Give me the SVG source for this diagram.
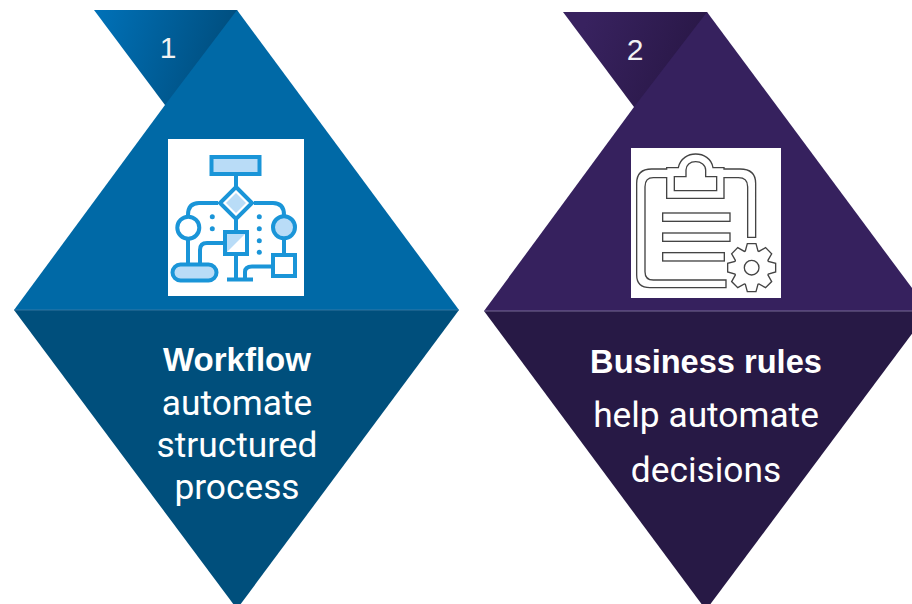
<svg xmlns="http://www.w3.org/2000/svg" width="912" height="604" viewBox="0 0 912 604">
<defs>
<style>
.lbl{font-family:Roboto,"Liberation Sans",sans-serif;fill:#fff;text-anchor:middle;font-size:35.300px}
.bold{font-family:"Liberation Sans",Arial,sans-serif;font-weight:700}
.num{font-family:"Liberation Sans",Arial,sans-serif;fill:#f2f2f2;text-anchor:middle;font-size:30px}
.ic{fill:none;stroke:#1a95d8;stroke-width:4;stroke-linejoin:miter}
.lt{fill:#b9dcf7}
.wf{fill:#fff}
.dot{fill:#1a95d8}
.cb{fill:#fff;stroke:#444;stroke-width:4;fill-rule:evenodd}
</style>
<linearGradient id="t1" gradientUnits="userSpaceOnUse" x1="100" y1="10" x2="225" y2="50"><stop offset="0" stop-color="#0070b6"/><stop offset="1" stop-color="#004f80"/></linearGradient>
<linearGradient id="t2" gradientUnits="userSpaceOnUse" x1="590" y1="10" x2="695" y2="50"><stop offset="0" stop-color="#38225f"/><stop offset="1" stop-color="#2a1848"/></linearGradient>
</defs>
<rect width="912" height="604" fill="#fff"/>
<g id="node-1">
<polygon points="94,10 237,10 245,30 175,110 165,105" fill="url(#t1)"/>
<polygon points="237,10 459,310 14,310 165,105" fill="#0069a6"/>
<polygon points="14,310 459,310 237,609" fill="#004f7c"/>
<line x1="14" y1="310" x2="459" y2="310" stroke="#3f7fa8" stroke-width="0.8"/>
<text class="num" x="168" y="58">1</text>
<g id="icon-workflow">
<rect x="168" y="139" width="136" height="157" fill="#fff"/>
<path class="ic" d="M236 175V187M236 219V232M236 255V279M227 279.500H253M218 203H199Q188 203 188 215M254 203H273Q284 203 284 215M188 239V264M284 239V255M223 243H207Q200 243 200 250V264M272 266.500H252Q245 266.500 245 272V279"/>
<rect class="ic lt" x="211.500" y="157" width="48" height="17"/>
<polygon class="ic wf" points="236,187 252,203 236,219 220,203"/>
<polygon class="lt" points="236,193 246,203 236,213 226,203"/>
<circle class="ic wf" cx="188.300" cy="227.700" r="11"/>
<circle class="ic lt" cx="284" cy="227.300" r="11"/>
<rect class="wf" x="225" y="232" width="22" height="22"/>
<polygon class="lt" points="225,232 247,232 225,254"/>
<rect class="ic" x="225" y="232" width="22" height="22"/>
<rect class="ic lt" x="172.500" y="264.500" width="44" height="16" rx="8"/>
<rect class="ic wf" x="273" y="255" width="22" height="21"/>
<g class="dot"><circle cx="212.300" cy="216.700" r="2.500"/><circle cx="212.300" cy="228.700" r="2.500"/><circle cx="259.300" cy="216.700" r="2.500"/><circle cx="259.300" cy="228.700" r="2.500"/><circle cx="259.300" cy="240.700" r="2.500"/><circle cx="259.300" cy="252.300" r="2.500"/></g>
</g>
<text class="lbl bold" x="237" y="371" style="font-size:33px">Workflow</text>
<text class="lbl" x="237" y="415">automate</text>
<text class="lbl" x="237" y="457">structured</text>
<text class="lbl" x="237" y="499">process</text>
</g>
<g id="node-2">
<polygon points="563,12 707,12 715,32 644,112 634,107" fill="url(#t2)"/>
<polygon points="707,12 929,311 484,311 634,107" fill="#36215e"/>
<polygon points="484,311 929,311 706,610" fill="#271945"/>
<line x1="484" y1="311" x2="912" y2="311" stroke="#8a7fa8" stroke-width="0.8"/>
<text class="num" x="635" y="60">2</text>
<g id="icon-rules">
<rect x="631" y="148" width="150" height="150" fill="#fff"/>
<g transform="translate(625 145) scale(.3333)">
<path class="cb" d="M303 428H75Q35 428 35 390V115Q35 72 80 72H125V68H160C165 40 190 27 212 27C235 27 260 40 264 68H297V72H345Q392 72 392 115V277H368V125Q368 98 340 98H297V160H125V98H85Q60 98 60 125V380Q60 405 85 405H303ZM148 137V95H183V75C183 60 195 50 212 50C228 50 242 60 242 75V95H275V137Z"/>
<rect class="cb" x="113" y="204" width="202" height="25"/>
<rect class="cb" x="113" y="264" width="202" height="25"/>
<rect class="cb" x="113" y="323" width="185" height="25"/>
<g transform="translate(380 368)">
<path class="cb" d="M-19-50L-13-72H13L19-50L21.900-48.800L41.700-60.100L60.100-41.700L48.800-21.900L50-19L72-13V13L50 19L48.800 21.900L60.100 41.700L41.700 60.100L21.900 48.800L19 50L13 72H-13L-19 50L-21.900 48.800L-41.700 60.100L-60.100 41.700L-48.800 21.900L-50 19L-72 13V-13L-50-19L-48.800-21.900L-60.100-41.700L-41.700-60.100L-21.900-48.800Z"/>
<circle class="cb" r="22"/>
</g>
</g>
</g>
<text class="lbl bold" x="706" y="373" style="font-size:32.600px">Business rules</text>
<text class="lbl" x="706" y="427">help automate</text>
<text class="lbl" x="706" y="482">decisions</text>
</g>
<g id="connectors"></g>
</svg>
